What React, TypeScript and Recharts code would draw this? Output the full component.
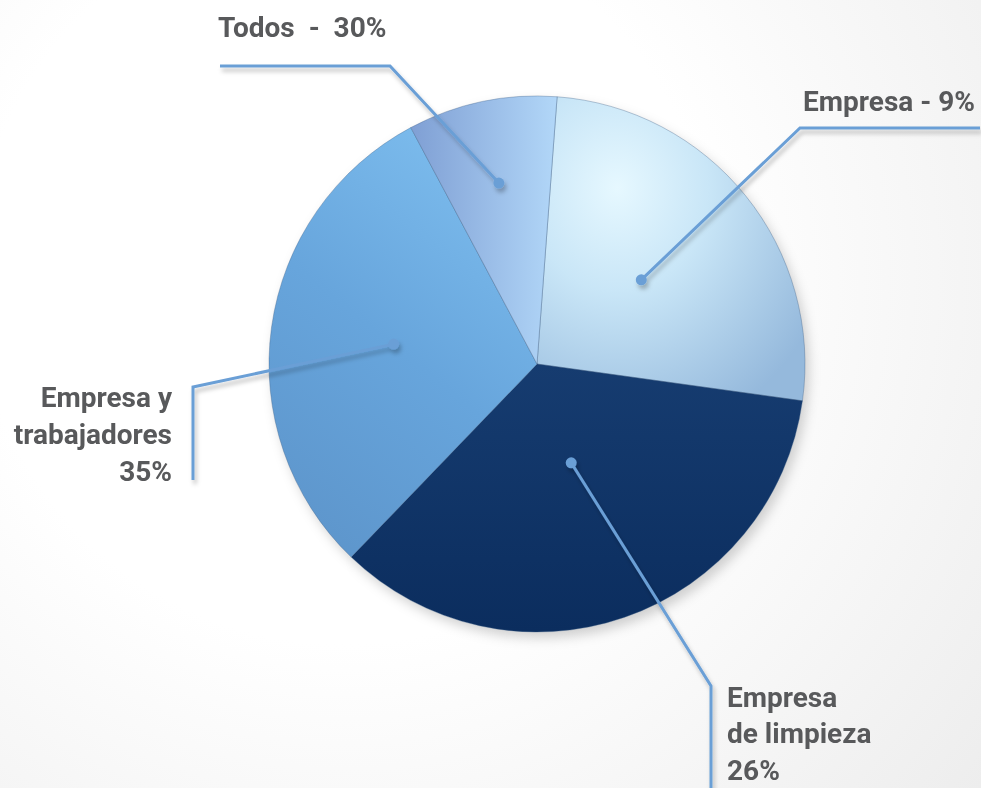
import { PieChart, Pie, Cell } from 'recharts';

// slices, clockwise from the top
const categories = ['Empresa', 'Empresa de limpieza', 'Empresa y trabajadores', 'Todos'];
const values = [26, 35, 30, 9];
// label text as printed next to each slice
const labelLines = [
  ['Empresa - 9%'],
  ['Empresa', 'de limpieza', '26%'],
  ['Empresa y', 'trabajadores', '35%'],
  ['Todos  -  30%'],
];

const data = categories.map((name, i) => ({ name, value: values[i] }));

const GRADS = ['gTopRight', 'gDark', 'gLeft', 'gTop'];
const LINE = '#6b9fd6';
const TEXT = '#58595b';
const FONT = '"Liberation Sans Narrow", "Roboto", "Liberation Sans", sans-serif';

// leader-line layout, offsets from the pie centre
const LAYOUT = [
  { dotR: 0.5, elbow: [263, -236], end: [443, -236], anchor: 'end', tx: 438, ty: [-253] },
  { dotR: 0.39, elbow: [174, 322], end: [174, 430], anchor: 'start', tx: 190, ty: [343, 379, 416] },
  { dotR: 0.54, elbow: [-344, 23], end: [-344, 116], anchor: 'end', tx: -365, ty: [43, 80, 117] },
  { dotR: 0.69, elbow: [-147, -298], end: [-317, -298], anchor: 'start', tx: -319, ty: [-327] },
];

const RAD = Math.PI / 180;

function renderLabel(props: any) {
  const { cx, cy, midAngle, outerRadius, index } = props;
  const l = LAYOUT[index];
  const r = outerRadius * l.dotR;
  const dx = cx + r * Math.cos(-midAngle * RAD);
  const dy = cy + r * Math.sin(-midAngle * RAD);
  const pts = `${dx},${dy} ${cx + l.elbow[0]},${cy + l.elbow[1]} ${cx + l.end[0]},${cy + l.end[1]}`;
  return (
    <g key={`lbl-${index}`}>
      <g filter="url(#lineShadow)">
        <polyline points={pts} fill="none" stroke={LINE} strokeWidth={3} />
        <circle cx={dx} cy={dy} r={5.5} fill={LINE} />
      </g>
      {labelLines[index].map((t, k) => (
        <text
          key={k}
          x={cx + l.tx}
          y={cy + l.ty[k]}
          textAnchor={l.anchor}
          fill={TEXT}
          fontFamily={FONT}
          fontWeight="bold"
          fontSize={28}
          style={{ whiteSpace: 'pre' }}
        >
          {t}
        </text>
      ))}
    </g>
  );
}

export default function App() {
  return (
    <div
      style={{
        position: 'fixed',
        left: 0,
        top: 0,
        width: 981,
        height: 788,
        background: 'radial-gradient(circle at 35% 35%, #ffffff 45%, #ededed 100%)',
      }}
    >
      <PieChart width={981} height={788} margin={{ top: 0, right: 0, bottom: 0, left: 0 }}>
        <defs>
          <radialGradient id="gTopRight" cx="0.3" cy="0.3" r="0.85">
            <stop offset="0" stopColor="#e6f8ff" />
            <stop offset="0.4" stopColor="#c9e6f7" />
            <stop offset="1" stopColor="#95b9dc" />
          </radialGradient>
          <linearGradient id="gDark" x1="0" y1="0" x2="0" y2="1">
            <stop offset="0" stopColor="#163c70" />
            <stop offset="1" stopColor="#0b2d5e" />
          </linearGradient>
          <linearGradient id="gLeft" x1="0.7" y1="0" x2="0.2" y2="1">
            <stop offset="0" stopColor="#7dbdee" />
            <stop offset="0.5" stopColor="#67a5dc" />
            <stop offset="1" stopColor="#5d95cb" />
          </linearGradient>
          <linearGradient id="gTop" x1="0" y1="0" x2="1" y2="0">
            <stop offset="0" stopColor="#7f9fd4" />
            <stop offset="1" stopColor="#b2d7f8" />
          </linearGradient>
          <filter id="pieShadow" x="-20%" y="-20%" width="140%" height="140%">
            <feGaussianBlur stdDeviation="6" />
          </filter>
          <filter id="lineShadow" x="-20%" y="-20%" width="140%" height="140%">
            <feDropShadow dx="2" dy="4" stdDeviation="2" floodColor="#000" floodOpacity="0.25" />
          </filter>
        </defs>
        <Pie
          data={data}
          dataKey="value"
          cx={541}
          cy={370}
          outerRadius={268}
          startAngle={85.7}
          endAngle={-274.3}
          stroke="none"
          isAnimationActive={false}
          label={false}
          labelLine={false}
        >
          {data.map((_, i) => (
            <Cell key={`sh-${i}`} fill="#000" fillOpacity={0.18} filter="url(#pieShadow)" />
          ))}
        </Pie>
        <Pie
          data={data}
          dataKey="value"
          cx={537}
          cy={364}
          outerRadius={268}
          startAngle={85.7}
          endAngle={-274.3}
          stroke="#3d5f88"
          strokeOpacity={0.35}
          strokeWidth={1}
          isAnimationActive={false}
          labelLine={false}
          label={renderLabel}
        >
          {data.map((_, i) => (
            <Cell key={`c-${i}`} fill={`url(#${GRADS[i]})`} />
          ))}
        </Pie>
      </PieChart>
    </div>
  );
}
